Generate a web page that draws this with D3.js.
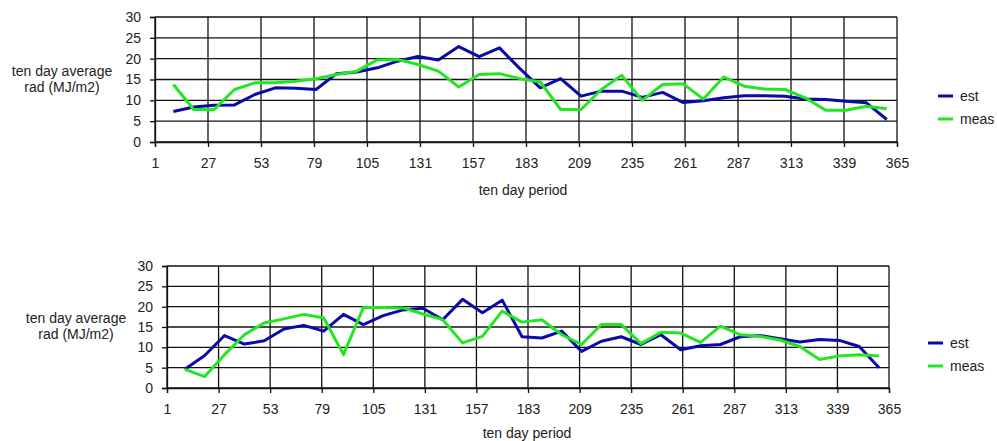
<!DOCTYPE html>
<html>
<head>
<meta charset="utf-8">
<script src="https://cdn.jsdelivr.net/npm/d3@7"></script>
<style>
  html, body { margin: 0; padding: 0; background: #fff; }
  text { font-family: "Liberation Sans", Arial, sans-serif; font-size: 14px; fill: #222; }
</style>
</head>
<body>
<svg id="chart" width="997" height="441"></svg>
<script>
// ten day periods (day of year)
var days = [10,20,30,40,50,60,70,80,90,100,110,120,130,140,150,160,170,180,
            190,200,210,220,230,240,250,260,270,280,290,300,310,320,330,340,350,360];

// upper chart
var estTop  = [7.3,8.4,8.8,8.9,11.4,13.0,12.9,12.6,16.4,16.8,17.8,19.4,20.5,19.7,22.9,20.5,22.6,17.6,
               13.0,15.2,11.0,12.2,12.2,10.7,11.9,9.5,9.9,10.6,11.1,11.1,11.0,10.3,10.2,9.8,9.4,5.4];
var measTop = [13.8,7.8,7.8,12.6,14.2,14.2,14.6,15.2,16.2,17.0,19.7,19.8,18.6,17.0,13.2,16.2,16.4,15.2,
               14.4,7.8,7.8,12.6,16.0,10.0,13.8,14.0,10.3,15.6,13.4,12.7,12.6,10.6,7.6,7.6,8.6,8.0];

// lower chart
var estBottom  = [4.6,8.0,12.9,10.8,11.6,14.5,15.4,14.0,18.1,15.6,17.8,19.2,19.6,16.8,21.8,18.5,21.6,12.6,
                  12.3,14.0,9.0,11.5,12.6,10.7,13.1,9.4,10.4,10.7,12.6,12.9,12.1,11.3,11.9,11.7,10.2,5.0];
var measBottom = [4.6,2.8,8.2,13.1,16.0,17.0,18.1,17.2,8.2,19.8,19.8,19.7,18.2,16.8,11.1,12.7,18.9,16.2,
                  16.8,13.1,10.7,15.6,15.6,10.9,13.7,13.5,11.2,15.2,13.1,12.7,11.8,10.2,7.0,7.9,8.2,7.9];

var xTicks = [1,27,53,79,105,131,157,183,209,235,261,287,313,339,365];
var yTicks = [0,5,10,15,20,25,30];
var seriesNames = ["est", "meas"];
var seriesColors = ["#0a0aa8", "#22e622"];

var svg = d3.select("#chart");

var panels = [
  { est: estTop, meas: measTop, x0: 155, x1: 897, y0: 142, y1: 17,
    titleX: 62, titleY: 72, xTitleX: 523, xTitleY: 195,
    legX: 938, legY: 96 },
  { est: estBottom, meas: measBottom, x0: 167, x1: 889, y0: 388, y1: 266,
    titleX: 76, titleY: 319, xTitleX: 527, xTitleY: 438,
    legX: 928, legY: 343 }
];

panels.forEach(function (p) {
  var x = d3.scaleLinear().domain([1, 365]).range([p.x0, p.x1]);
  var y = d3.scaleLinear().domain([0, 30]).range([p.y0, p.y1]);
  var g = svg.append("g");

  // grid
  g.append("g").selectAll("line").data(yTicks).enter().append("line")
    .attr("x1", p.x0).attr("x2", p.x1)
    .attr("y1", d => y(d)).attr("y2", d => y(d))
    .attr("stroke", "#111").attr("stroke-width", 1.3);
  g.append("g").selectAll("line").data(xTicks).enter().append("line")
    .attr("x1", d => x(d)).attr("x2", d => x(d))
    .attr("y1", p.y1).attr("y2", p.y0)
    .attr("stroke", "#111").attr("stroke-width", 1.3);

  // axes
  var xAxis = d3.axisBottom(x).tickValues(xTicks).tickSize(5).tickPadding(11);
  var yAxis = d3.axisLeft(y).tickValues(yTicks).tickSize(5).tickPadding(9);
  var gx = g.append("g").attr("transform", "translate(0," + p.y0 + ")").call(xAxis);
  var gy = g.append("g").attr("transform", "translate(" + p.x0 + ",0)").call(yAxis);
  [gx, gy].forEach(function (a) {
    a.select(".domain").attr("stroke", "#111").attr("stroke-width", 1.3);
    a.selectAll(".tick line").attr("stroke", "#111").attr("stroke-width", 1.3);
    a.selectAll("text").style("font-family", "Liberation Sans, Arial, sans-serif")
      .style("font-size", "14px").attr("fill", "#222");
  });

  // series lines
  var line = d3.line().x((d, i) => x(days[i])).y(d => y(d));
  [p.est, p.meas].forEach(function (vals, k) {
    g.append("path")
      .attr("d", line(vals))
      .attr("fill", "none")
      .attr("stroke", seriesColors[k])
      .attr("stroke-width", 3)
      .attr("stroke-linejoin", "round");
  });

  // axis titles
  var t = g.append("text").attr("text-anchor", "middle");
  t.append("tspan").attr("x", p.titleX).attr("y", p.titleY + 4).text("ten day average");
  t.append("tspan").attr("x", p.titleX).attr("y", p.titleY + 20).text("rad (MJ/m2)");
  g.append("text").attr("x", p.xTitleX).attr("y", p.xTitleY)
    .attr("text-anchor", "middle").text("ten day period");

  // legend
  seriesNames.forEach(function (name, k) {
    var ly = p.legY + k * 23;
    g.append("line").attr("x1", p.legX).attr("x2", p.legX + 15)
      .attr("y1", ly).attr("y2", ly)
      .attr("stroke", seriesColors[k]).attr("stroke-width", 3);
    g.append("text").attr("x", p.legX + 22).attr("y", ly + 5).text(name);
  });
});
</script>
</body>
</html>
